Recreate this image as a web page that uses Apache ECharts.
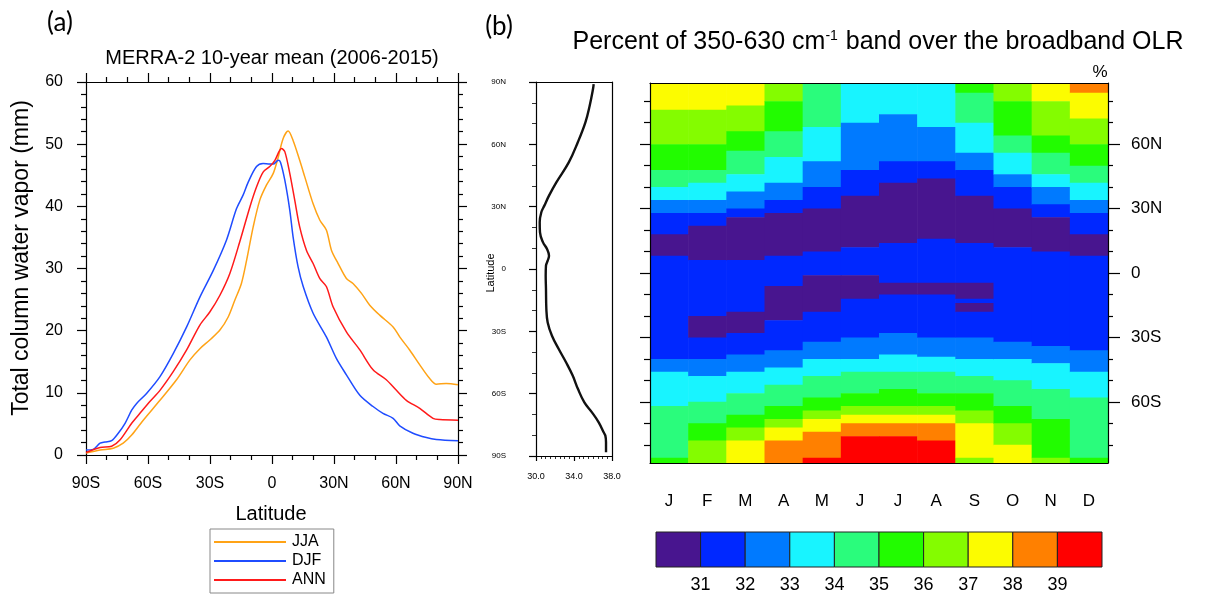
<!DOCTYPE html>
<html>
<head>
<meta charset="utf-8">
<title>MERRA-2 water vapour and 350-630 cm-1 OLR fraction</title>
<script src="https://cdn.jsdelivr.net/npm/echarts@6/dist/echarts.min.js"></script>
<style>
  html, body { margin: 0; padding: 0; background: #fff; }
  #chart { width: 1210px; height: 596px; }
</style>
</head>
<body>
<div id="chart"></div>
<script>
// (a) zonal mean total column water vapor, mm
var jjaLat = [-90,-83.2,-76.8,-72,-67.9,-62.3,-54.2,-46.2,-39.7,-34.9,-30.1,-25.2,-21.2,-18,-14.8,-12.3,-9.1,-5.9,-2.7,0.6,3,5.4,7.8,10.2,13.4,15.9,19.9,23.1,26.3,28.8,32,36,39.2,43.3,47.3,52.1,58.6,61.8,66.6,71.5,76.3,79.5,84.3,90];
var jjaVal = [0.3,0.8,1.1,1.9,3.2,5.6,8.8,12.1,15.3,17.1,18.5,20.1,22.2,24.9,27.6,31.3,36.7,41,43.4,45.3,47.9,50.9,52.1,50.6,47.4,44.7,40.4,37.8,36.2,32.9,30.8,28.4,27.6,26,24.1,22.5,20.6,19,16.9,14.5,12.3,11.4,11.5,11.3];
var djfLat = [-90,-86.5,-83.2,-80.8,-77.6,-74.4,-71.1,-67.9,-65.5,-60.7,-54.2,-47.8,-41.3,-34.9,-28.4,-22,-17.2,-14,-11.5,-7.5,-4.3,-1.1,0.6,3,4.1,6.2,8.6,10.2,12.6,15.1,19.9,26.3,31.2,36,42.5,48.9,53.7,58.6,61.8,68.2,74.7,79.5,90];
var djfVal = [0.8,0.9,1.9,2.1,2.3,3.5,5.1,7.2,8.3,9.9,12.6,16.3,20.6,25.4,29.7,34.6,39.6,41.8,43.9,46.4,46.9,46.8,46.8,47.4,47.1,44.2,39.4,35.1,30.3,27.1,22.8,19,15.5,12.9,9.6,7.8,6.7,5.9,4.7,3.5,2.8,2.5,2.3];
var annLat = [-90,-83.2,-77.6,-73.6,-67.9,-63.9,-59.1,-54.2,-47.8,-41.3,-34.9,-30.1,-25.2,-20.4,-15.6,-10.7,-7.5,-4.3,-1.1,1.4,4.6,6.2,8.6,11,13.4,16.7,19.9,23.1,26.3,29.6,36,42.5,48.9,55.3,60.2,65,71.5,77.9,81.1,90];
var annVal = [0.4,1.2,1.4,2.4,5.1,6.7,8.6,10.4,13.4,16.9,20.9,23,25.7,29.2,34.3,39.9,43.1,45.5,46.4,47.4,49.3,48.8,45.3,41,36.7,32.9,30.8,28.4,27.1,23.8,19.8,16.9,13.7,12.1,10.4,8.8,7.5,5.9,5.7,5.6];

// (b) annual mean profile, percent
var profLat = [89,86.6,78.6,70.6,61,51.3,41.7,35.3,30.5,27.3,22.5,17.6,12.8,9.6,6.4,4,1.6,-3.2,-9.6,-19.3,-25.7,-32.1,-38.5,-44.9,-51.3,-57.8,-64.2,-69,-73.8,-78.6,-80.2,-83.4,-88.2];
var profVal = [36.07,36,35.65,35.2,34.4,33.45,32.14,31.37,30.88,30.56,30.39,30.42,30.74,31.16,31.37,31.23,31.05,31.02,31.05,31.09,31.23,31.68,32.39,33.16,33.86,34.42,35.09,35.89,36.6,37.12,37.3,37.37,37.37];

// (b) month x latitude map: for each month the band edges (north to south) and the level of each band
var months = ['J','F','M','A','M','J','J','A','S','O','N','D'];
var bandEdges = [
  [88.5,76,60,48,40,34,28,18,8,-40,-46,-62,-86,-88.5],
  [88.5,76,60,48,42,34,28,22,6,-20,-30,-40,-48,-60,-70,-78,-88.5],
  [88.5,78,66,57,46,38,30,26,6,-18,-28,-38,-46,-56,-66,-72,-78,-88.5],
  [88.5,80,66,54,42,34,28,8,-6,-22,-36,-44,-52,-62,-68,-72,-78,-88.5],
  [88.5,68,52,40,30,10,-1,-18,-32,-40,-48,-58,-64,-68,-74,-86,-88.5],
  [88.5,70,48,36,12,-1,-12,-30,-40,-46,-56,-62,-66,-70,-76,-88.5],
  [88.5,74,52,42,14,-4.5,-10,-28,-38,-46,-54,-62,-66,-70,-76,-88.5],
  [88.5,68,52,44,16,-4.5,-10,-30,-39,-46,-56,-62,-66,-70,-78,-88.5],
  [88.5,84,70,56,48,36,14,-4.5,-12,-14,-18,-30,-40,-48,-56,-64,-70,-86,-88.5],
  [88.5,80,64,56,46,40,30,12,-32,-40,-50,-62,-70,-80,-88.5],
  [88.5,80,64,56,46,40,32,26,10,-34,-42,-54,-68,-86,-88.5],
  [88.5,84,72,60,50,42,34,28,18,8,-36,-46,-58,-86,-88.5]
];
var bandLevels = [
  [7,6,5,4,3,2,1,0,1,2,3,4,5],
  [7,6,5,4,3,2,1,0,1,0,1,2,3,4,5,6],
  [7,6,5,4,3,2,1,0,1,0,1,2,3,4,5,6,7],
  [6,5,4,3,2,1,0,1,0,1,2,3,4,5,6,7,8],
  [4,3,2,1,0,1,0,1,2,3,4,5,6,7,8,9],
  [3,2,1,0,1,0,1,2,3,4,5,6,7,8,9],
  [3,2,1,0,1,0,1,2,3,4,5,6,7,8,9],
  [3,2,1,0,1,0,1,2,3,4,5,6,7,8,9],
  [5,4,3,2,1,0,1,0,1,0,1,2,3,4,5,6,7,6],
  [6,5,4,3,2,1,0,1,2,3,4,5,6,7],
  [7,6,5,4,3,2,1,0,1,2,3,4,5,6],
  [8,7,6,5,4,3,2,1,0,1,2,3,4,5]
];
var levelBounds = [30,31,32,33,34,35,36,37,38,39,40];
var levelColors = ['#48158F','#0028FF','#007AFF','#18F4FF','#2AFC7C','#22FC00','#84FC00','#FCFC00','#FF8000','#FF0000'];
var latMinor = [-80,-70,-50,-40,-20,-10,10,20,40,50,70,80];
var latMajor = [-60,-30,0,30,60];

var FONT = 'Liberation Sans, Arial, sans-serif';

function latLabel(v) {
  if (v === 0) return '0';
  return Math.abs(v) + (v > 0 ? 'N' : 'S');
}
function pairs(xs, ys) {
  return xs.map(function (x, i) { return [x, ys[i]]; });
}

var heatData = [];
bandLevels.forEach(function (levels, m) {
  levels.forEach(function (lv, k) {
    heatData.push([m, bandEdges[m][k], bandEdges[m][k + 1], lv]);
  });
});
var barData = levelColors.map(function (c, i) {
  return [levelBounds[i], levelBounds[i + 1], i];
});

function renderBand(params, api) {
  var top = api.coord([api.value(0), api.value(1)]);
  var bot = api.coord([api.value(0), api.value(2)]);
  var w = api.size([1, 0])[0];
  return {
    type: 'rect',
    shape: { x: top[0] - w / 2, y: top[1], width: w + 0.6, height: bot[1] - top[1] + 0.6 },
    style: { fill: levelColors[api.value(3)] }
  };
}
function renderSwatch(params, api) {
  var a = api.coord([api.value(0), 1]);
  var b = api.coord([api.value(1), 0]);
  return {
    type: 'rect',
    shape: { x: a[0], y: a[1], width: b[0] - a[0], height: b[1] - a[1] },
    style: { fill: levelColors[api.value(2)], stroke: '#222', lineWidth: 1 }
  };
}

var line = { color: '#000', width: 1.2 };
var noSplit = { show: false };

var chart = echarts.init(document.getElementById('chart'));
var option = {
  animation: false,
  backgroundColor: '#fff',
  textStyle: { fontFamily: FONT, color: '#000' },
  grid: [
    { left: 86, top: 82, width: 372, height: 373, outerBoundsMode: 'none' },
    { left: 536, top: 82, width: 76, height: 374, outerBoundsMode: 'none' },
    { left: 650, top: 83, width: 458, height: 380, outerBoundsMode: 'none' },
    { left: 656, top: 532, width: 446, height: 35, outerBoundsMode: 'none' }
  ],
  legend: {
    data: ['JJA', 'DJF', 'ANN'],
    orient: 'vertical',
    left: 210, top: 529,
    icon: 'rect',
    itemWidth: 72, itemHeight: 2, itemGap: 3,
    padding: [5, 8, 5, 4],
    borderColor: '#888', borderWidth: 1,
    textStyle: { fontSize: 16, fontFamily: FONT, color: '#000', padding: [0, 0, 0, 1] }
  },
  xAxis: [
    { gridIndex: 0, type: 'value', min: -90, max: 90, interval: 30, position: 'bottom',
      axisLine: { onZero: false, lineStyle: line },
      axisTick: { length: 9, lineStyle: line },
      minorTick: { show: true, splitNumber: 3, length: 5, lineStyle: line },
      axisLabel: { formatter: latLabel, fontSize: 16, margin: 21, color: '#000' },
      splitLine: noSplit },
    { gridIndex: 0, type: 'value', min: -90, max: 90, interval: 30, position: 'top',
      axisLine: { onZero: false, lineStyle: line },
      axisTick: { length: 9, lineStyle: line },
      minorTick: { show: true, splitNumber: 3, length: 5, lineStyle: line },
      axisLabel: { show: false }, splitLine: noSplit },
    { gridIndex: 1, type: 'value', min: 30, max: 38, interval: 4, position: 'bottom',
      axisLine: { onZero: false, lineStyle: line },
      axisTick: { length: 5, lineStyle: line },
      minorTick: { show: true, splitNumber: 8, length: 3, lineStyle: { color: '#000', width: 0.8 } },
      axisLabel: { formatter: function (v) { return v.toFixed(1); }, fontSize: 9, margin: 16, color: '#000' },
      splitLine: noSplit },
    { gridIndex: 1, type: 'value', min: 30, max: 38, position: 'top',
      axisLine: { onZero: false, lineStyle: line },
      axisTick: { show: false }, axisLabel: { show: false }, splitLine: noSplit },
    { gridIndex: 2, type: 'category', data: months, position: 'bottom', z: 5,
      axisLine: { onZero: false, lineStyle: line },
      axisTick: { alignWithLabel: true, length: 12, lineStyle: line },
      axisLabel: { fontSize: 17, margin: 30, color: '#000' } },
    { gridIndex: 2, type: 'category', data: months, position: 'top', z: 5,
      axisLine: { onZero: false, lineStyle: line },
      axisTick: { show: false }, axisLabel: { show: false } },
    { gridIndex: 3, type: 'value', min: 30, max: 40, interval: 1,
      axisLine: { show: false }, axisTick: { show: false }, splitLine: noSplit,
      axisLabel: { fontSize: 18, margin: 9, color: '#000',
        formatter: function (v) { return (v > 30 && v < 40) ? String(v) : ''; } } }
  ],
  yAxis: [
    { gridIndex: 0, type: 'value', min: 0, max: 60, interval: 10, position: 'left',
      axisLine: { show: true, onZero: false, lineStyle: line },
      axisTick: { show: true, length: 9, lineStyle: line },
      minorTick: { show: true, splitNumber: 5, length: 5, lineStyle: line },
      axisLabel: { fontSize: 16, margin: 23, color: '#000' }, splitLine: noSplit },
    { gridIndex: 0, type: 'value', min: 0, max: 60, interval: 10, position: 'right',
      axisLine: { show: true, onZero: false, lineStyle: line },
      axisTick: { show: true, length: 9, lineStyle: line },
      minorTick: { show: true, splitNumber: 5, length: 5, lineStyle: line },
      axisLabel: { show: false }, splitLine: noSplit },
    { gridIndex: 1, type: 'value', min: -90, max: 90, interval: 30, position: 'left',
      axisLine: { show: true, onZero: false, lineStyle: line },
      axisTick: { show: true, length: 7, lineStyle: line },
      minorTick: { show: true, splitNumber: 3, length: 4, lineStyle: { color: '#000', width: 0.8 } },
      axisLabel: { formatter: latLabel, fontSize: 8, margin: 30, color: '#000' }, splitLine: noSplit },
    { gridIndex: 1, type: 'value', min: -90, max: 90, position: 'right',
      axisLine: { show: true, onZero: false, lineStyle: line },
      axisTick: { show: false }, axisLabel: { show: false }, splitLine: noSplit },
    { gridIndex: 2, type: 'value', min: -88.5, max: 88.5, position: 'left', z: 5,
      axisLine: { show: true, onZero: false, lineStyle: line },
      axisTick: { show: true, customValues: latMinor, length: 6, lineStyle: line },
      axisLabel: { show: false }, splitLine: noSplit },
    { gridIndex: 2, type: 'value', min: -88.5, max: 88.5, position: 'left', z: 5,
      axisLine: { show: false },
      axisTick: { show: true, customValues: latMajor, length: 10, lineStyle: line },
      axisLabel: { show: false }, splitLine: noSplit },
    { gridIndex: 2, type: 'value', min: -88.5, max: 88.5, position: 'right', z: 5,
      axisLine: { show: true, onZero: false, lineStyle: line },
      axisTick: { show: true, customValues: latMinor, length: 5, lineStyle: line },
      axisLabel: { show: false }, splitLine: noSplit },
    { gridIndex: 2, type: 'value', min: -88.5, max: 88.5, position: 'right', z: 5,
      axisLine: { show: false },
      axisTick: { show: true, customValues: latMajor, length: 12, lineStyle: line },
      axisLabel: { show: true, customValues: latMajor, formatter: latLabel, fontSize: 17, margin: 23, color: '#000' },
      splitLine: noSplit },
    { gridIndex: 3, type: 'value', min: 0, max: 1, show: false }
  ],
  series: [
    { name: 'JJA', type: 'line', xAxisIndex: 0, yAxisIndex: 0, data: pairs(jjaLat, jjaVal),
      symbol: 'none', smooth: 0.3, color: '#FFA316', lineStyle: { width: 1.5, color: '#FFA316' } },
    { name: 'DJF', type: 'line', xAxisIndex: 0, yAxisIndex: 0, data: pairs(djfLat, djfVal),
      symbol: 'none', smooth: 0.3, color: '#1F4CFF', lineStyle: { width: 1.5, color: '#1F4CFF' } },
    { name: 'ANN', type: 'line', xAxisIndex: 0, yAxisIndex: 0, data: pairs(annLat, annVal),
      symbol: 'none', smooth: 0.3, color: '#FF1A1A', lineStyle: { width: 1.5, color: '#FF1A1A' } },
    { name: 'profile', type: 'line', xAxisIndex: 2, yAxisIndex: 2, data: pairs(profVal, profLat),
      symbol: 'none', smooth: 0.4, lineStyle: { width: 2.4, color: '#111' } },
    { name: 'map', type: 'custom', xAxisIndex: 4, yAxisIndex: 7, data: heatData,
      renderItem: renderBand, encode: { x: 0, y: [1, 2] }, clip: true, z: 1 },
    { name: 'colorbar', type: 'custom', xAxisIndex: 6, yAxisIndex: 8, data: barData,
      renderItem: renderSwatch, encode: { x: [0, 1] } }
  ],
  graphic: [
    { type: 'text', style: { x: 60, y: 23, text: '(a)', font: '26px Lato, "Open Sans", sans-serif', fill: '#000', textAlign: 'center', textVerticalAlign: 'middle' } },
    { type: 'text', style: { x: 499, y: 27, text: '(b)', font: '26px Lato, "Open Sans", sans-serif', fill: '#000', textAlign: 'center', textVerticalAlign: 'middle' } },
    { type: 'text', style: { x: 272, y: 58, text: 'MERRA-2 10-year mean (2006-2015)', font: '20px ' + FONT, fill: '#000', textAlign: 'center', textVerticalAlign: 'middle' } },
    { type: 'text', style: { x: 878, y: 42, text: 'Percent of 350-630 cm{sup|-1} band over the broadband OLR',
        font: '25px ' + FONT, fill: '#000', textAlign: 'center', textVerticalAlign: 'middle',
        rich: { sup: { fontSize: 14, fontFamily: FONT, verticalAlign: 'top', padding: [0, 1, 12, 0] } } } },
    { type: 'text', x: 22, y: 258, rotation: Math.PI / 2,
      style: { x: 0, y: 0, text: 'Total column water vapor (mm)', font: '23px ' + FONT, fill: '#000', textAlign: 'center', textVerticalAlign: 'middle' } },
    { type: 'text', style: { x: 271, y: 514, text: 'Latitude', font: '20px ' + FONT, fill: '#000', textAlign: 'center', textVerticalAlign: 'middle' } },
    { type: 'text', x: 491, y: 273, rotation: Math.PI / 2,
      style: { x: 0, y: 0, text: 'Latitude', font: '11px ' + FONT, fill: '#000', textAlign: 'center', textVerticalAlign: 'middle' } },
    { type: 'text', style: { x: 1100, y: 72, text: '%', font: '17px ' + FONT, fill: '#000', textAlign: 'center', textVerticalAlign: 'middle' } }
  ]
};
chart.setOption(option);
</script>
</body>
</html>
